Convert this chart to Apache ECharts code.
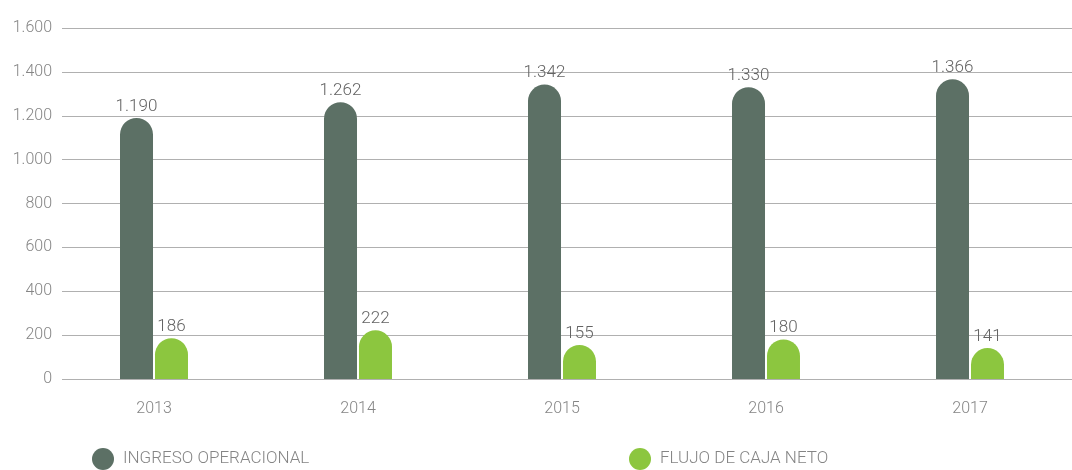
<!DOCTYPE html>
<html>
<head>
<meta charset="utf-8">
<title>Ingreso operacional y flujo de caja neto</title>
<script src="https://cdn.jsdelivr.net/npm/echarts@6/dist/echarts.min.js"></script>
<style>
  html, body { margin: 0; padding: 0; background: #ffffff; }
  #chart { width: 1072px; height: 470px; }
</style>
</head>
<body>
<div id="chart"></div>
<script>
// Years on the category axis
const years = ['2013', '2014', '2015', '2016', '2017'];
// Series values
const ingresoOperacional = [1190, 1262, 1342, 1330, 1366];
const flujoCajaNeto = [186, 222, 155, 180, 141];
// Value axis ticks
const yMin = 0;
const yMax = 1600;
const yStep = 200;

const FONT = '"Roboto", "Liberation Sans Narrow", "DejaVu Sans Condensed", sans-serif';
const DARK = '#5c7065';
const GREEN = '#8cc63f';

// thousands separator "."
function fmt(v) {
  return String(v).replace(/\B(?=(\d{3})+(?!\d))/g, '.');
}

const chart = echarts.init(document.getElementById('chart'), null, { renderer: 'canvas' });

const barLabel = {
  show: true,
  position: 'top',
  distance: 3,
  color: '#636363',
  fontFamily: FONT,
  fontWeight: 300,
  fontSize: 17,
  formatter: p => fmt(p.value)
};

const legendText = { color: '#858585', fontSize: 17, fontWeight: 300, fontFamily: FONT, padding: [0, 0, 0, 4] };

chart.setOption({
  animation: false,
  textStyle: { fontFamily: FONT },
  grid: [
    // grid with value axis labels and horizontal gridlines
    { left: 62, right: 0, top: 28, bottom: 91 },
    // grid holding the bars
    { left: 52, right: -6, top: 28, bottom: 91 }
  ],
  legend: [
    {
      data: ['INGRESO OPERACIONAL'],
      left: 87, top: 443,
      icon: 'circle', itemWidth: 22, itemHeight: 22, itemGap: 0,
      textStyle: legendText
    },
    {
      data: ['FLUJO DE CAJA NETO'],
      left: 624, top: 443,
      icon: 'circle', itemWidth: 22, itemHeight: 22, itemGap: 0,
      textStyle: legendText
    }
  ],
  xAxis: [
    { type: 'category', gridIndex: 0, data: years, show: false },
    {
      type: 'category', gridIndex: 1, data: years,
      axisLine: { show: false },
      axisTick: { show: false },
      axisLabel: { color: '#858585', fontSize: 16, fontWeight: 300, fontFamily: FONT, margin: 22 }
    }
  ],
  yAxis: [
    {
      type: 'value', gridIndex: 0, min: yMin, max: yMax, interval: yStep,
      axisLine: { show: false },
      axisTick: { show: false },
      axisLabel: { color: '#858585', fontSize: 16, fontWeight: 300, fontFamily: FONT, margin: 10, formatter: v => fmt(v) },
      splitLine: { lineStyle: { color: '#b0b0b0', width: 1 } }
    },
    {
      type: 'value', gridIndex: 1, min: yMin, max: yMax, interval: yStep,
      show: false, splitLine: { show: false }
    }
  ],
  series: [
    {
      name: 'INGRESO OPERACIONAL',
      type: 'bar',
      xAxisIndex: 1, yAxisIndex: 1,
      data: ingresoOperacional,
      barWidth: 33,
      barGap: '6%',
      itemStyle: { color: DARK, borderRadius: [16.5, 16.5, 0, 0] },
      label: barLabel
    },
    {
      name: 'FLUJO DE CAJA NETO',
      type: 'bar',
      xAxisIndex: 1, yAxisIndex: 1,
      data: flujoCajaNeto,
      barWidth: 33,
      barGap: '6%',
      itemStyle: { color: GREEN, borderRadius: [16.5, 16.5, 0, 0] },
      label: barLabel
    }
  ]
});
</script>
</body>
</html>
